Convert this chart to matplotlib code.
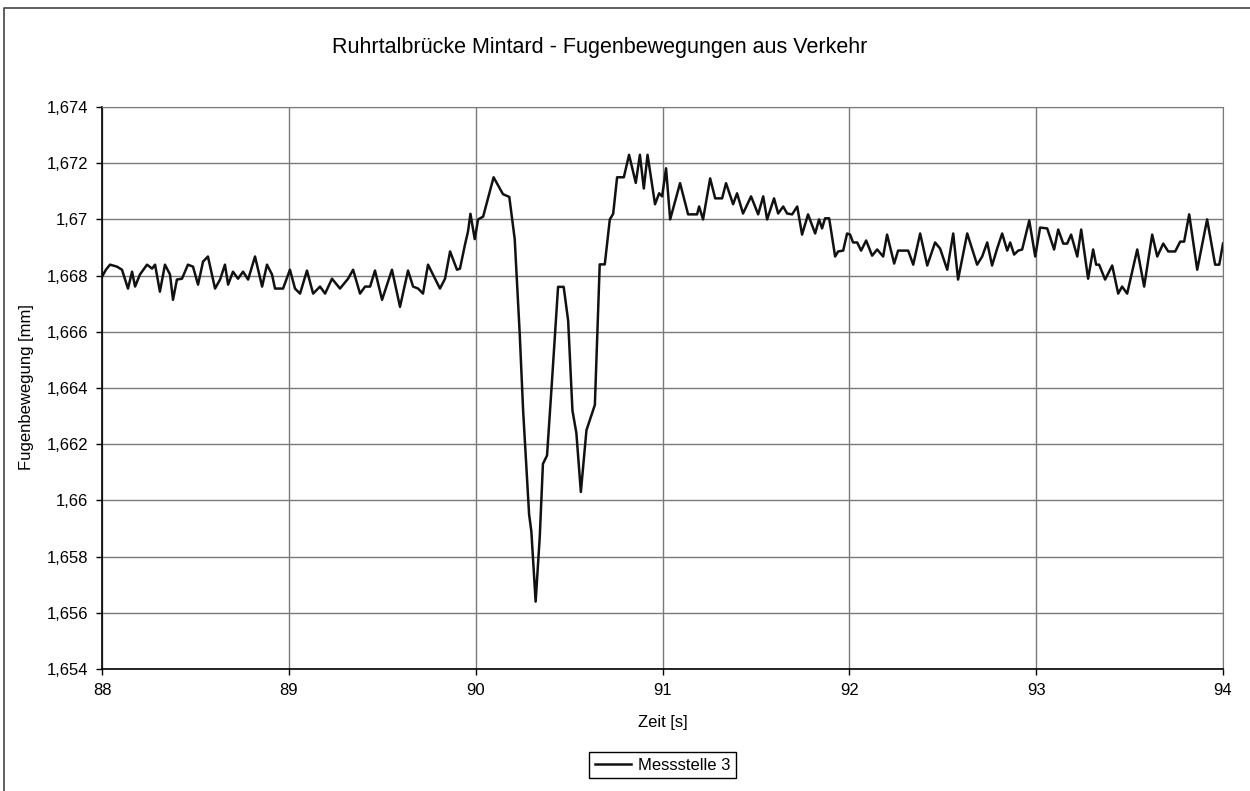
import matplotlib.pyplot as plt
from matplotlib.lines import Line2D

plt.rcParams['font.family'] = ['Liberation Sans', 'DejaVu Sans']

# Messstelle 3: Zeit [s] und Fugenbewegung [mm]
# vor der Überfahrt
zeit_vor = [88.000, 88.021, 88.043, 88.080, 88.107, 88.139, 88.161, 88.177, 88.203, 88.241,
            88.268, 88.284, 88.310, 88.337, 88.364, 88.380, 88.401, 88.428, 88.460, 88.487,
            88.514, 88.541, 88.567, 88.605, 88.632, 88.658, 88.675, 88.701, 88.728, 88.755,
            88.782, 88.819, 88.857, 88.883, 88.910, 88.926, 88.969, 89.006, 89.033, 89.060,
            89.097, 89.130, 89.167, 89.194, 89.231, 89.274, 89.317, 89.344, 89.381, 89.408,
            89.435, 89.461, 89.499, 89.526, 89.552, 89.595, 89.638, 89.665, 89.692, 89.718,
            89.745, 89.809, 89.836, 89.863, 89.900, 89.916, 89.943, 89.959]
weg_vor = [1.66796, 1.66821, 1.66839, 1.66832, 1.66821, 1.66754, 1.66814, 1.66761, 1.66804, 1.66839,
           1.66825, 1.66839, 1.66743, 1.66839, 1.66804, 1.66714, 1.66786, 1.66789, 1.66839, 1.66832,
           1.66768, 1.66850, 1.66868, 1.66754, 1.66786, 1.66839, 1.66768, 1.66814, 1.66789, 1.66814,
           1.66786, 1.66868, 1.66761, 1.66839, 1.66804, 1.66754, 1.66754, 1.66821, 1.66754, 1.66736,
           1.66818, 1.66736, 1.66761, 1.66736, 1.66789, 1.66754, 1.66789, 1.66821, 1.66736, 1.66761,
           1.66761, 1.66818, 1.66714, 1.66768, 1.66821, 1.66689, 1.66818, 1.66761, 1.66754, 1.66736,
           1.66839, 1.66754, 1.66789, 1.66886, 1.66821, 1.66825, 1.66911, 1.66957]

# Überfahrt
zeit_ueber = [89.972, 89.995, 90.013, 90.040, 90.096, 90.146, 90.180, 90.209, 90.236, 90.254,
              90.286, 90.298, 90.321, 90.343, 90.360, 90.382, 90.410, 90.441, 90.471, 90.495,
              90.518, 90.539, 90.563, 90.593, 90.638, 90.664, 90.691, 90.718, 90.736, 90.757,
              90.793, 90.821, 90.857, 90.879, 90.900, 90.920, 90.960, 90.982, 90.998, 91.019]
weg_ueber = [1.6702, 1.6693, 1.6700, 1.6701, 1.6715, 1.6709, 1.6708, 1.6693, 1.6659, 1.6632,
             1.6595, 1.6589, 1.6564, 1.6587, 1.6613, 1.6616, 1.6644, 1.6676, 1.6676, 1.6664,
             1.6632, 1.6624, 1.6603, 1.6625, 1.6634, 1.6684, 1.6684, 1.6700, 1.6702, 1.6715,
             1.6715, 1.6723, 1.6713, 1.6723, 1.6711, 1.6723, 1.67054, 1.67093, 1.67082, 1.67182]

# nach der Überfahrt
zeit_nach = [91.041, 91.094, 91.137, 91.185, 91.196, 91.217, 91.255, 91.282, 91.319, 91.340,
             91.378, 91.399, 91.431, 91.474, 91.512, 91.539, 91.560, 91.597, 91.619, 91.646,
             91.667, 91.694, 91.721, 91.747, 91.779, 91.817, 91.838, 91.854, 91.870, 91.892,
             91.924, 91.940, 91.967, 91.988, 92.004, 92.020, 92.042, 92.063, 92.090, 92.122,
             92.149, 92.181, 92.202, 92.240, 92.261, 92.315, 92.342, 92.379, 92.417, 92.459,
             92.486, 92.524, 92.556, 92.582, 92.631, 92.684, 92.711, 92.738, 92.764, 92.791,
             92.818, 92.845, 92.861, 92.882, 92.904, 92.925, 92.963, 92.995, 93.021, 93.059,
             93.096, 93.118, 93.145, 93.166, 93.187, 93.220, 93.241, 93.278, 93.305, 93.321,
             93.337, 93.369, 93.407, 93.439, 93.460, 93.487, 93.541, 93.578, 93.621, 93.648,
             93.680, 93.707, 93.744, 93.771, 93.792, 93.819, 93.862, 93.915, 93.958, 93.980,
             94.000]
weg_nach = [1.67000, 1.67129, 1.67018, 1.67018, 1.67046, 1.67000, 1.67146, 1.67075, 1.67075, 1.67129,
            1.67054, 1.67093, 1.67021, 1.67082, 1.67018, 1.67082, 1.67000, 1.67075, 1.67021, 1.67046,
            1.67021, 1.67018, 1.67046, 1.66946, 1.67018, 1.66950, 1.67000, 1.66968, 1.67004, 1.67004,
            1.66868, 1.66886, 1.66889, 1.66950, 1.66946, 1.66918, 1.66918, 1.66889, 1.66925, 1.66871,
            1.66893, 1.66868, 1.66946, 1.66843, 1.66889, 1.66889, 1.66839, 1.66950, 1.66836, 1.66918,
            1.66896, 1.66821, 1.66950, 1.66786, 1.66950, 1.66839, 1.66868, 1.66918, 1.66836, 1.66896,
            1.66950, 1.66889, 1.66918, 1.66875, 1.66889, 1.66893, 1.66996, 1.66868, 1.66971, 1.66968,
            1.66893, 1.66964, 1.66914, 1.66914, 1.66946, 1.66868, 1.66964, 1.66789, 1.66893, 1.66839,
            1.66839, 1.66786, 1.66836, 1.66736, 1.66761, 1.66736, 1.66893, 1.66761, 1.66946, 1.66868,
            1.66914, 1.66886, 1.66886, 1.66921, 1.66921, 1.67018, 1.66821, 1.67000, 1.66839, 1.66839,
            1.66914]

zeit = zeit_vor + zeit_ueber + zeit_nach
weg = weg_vor + weg_ueber + weg_nach

y_ticks = [1.654, 1.656, 1.658, 1.660, 1.662, 1.664, 1.666, 1.668, 1.670, 1.672, 1.674]
y_labels = ['1,654', '1,656', '1,658', '1,66', '1,662', '1,664', '1,666', '1,668', '1,67', '1,672', '1,674']
x_ticks = [88, 89, 90, 91, 92, 93, 94]

fig = plt.figure(figsize=(12.5, 7.91), dpi=100)
ax = fig.add_axes([0.0816, 0.1542, 0.8968, 0.7105])

ax.plot(zeit, weg, color='#111111', linewidth=1.8, label='Messstelle 3',
        solid_joinstyle='round')

ax.set_xlim(88, 94)
ax.set_ylim(1.654, 1.674)
ax.set_xticks(x_ticks)
ax.set_xticklabels([str(x) for x in x_ticks])
ax.set_yticks(y_ticks)
ax.set_yticklabels(y_labels)
ax.tick_params(direction='out', length=4, width=1, labelsize=12, pad=6)
ax.grid(True, color='#7a7a7a', linewidth=1.0)
for side in ['top', 'right']:
    ax.spines[side].set_color('#7a7a7a')
for side in ['left', 'bottom']:
    ax.spines[side].set_linewidth(1.2)

fig.text(0.48, 1 - 47 / 791, 'Ruhrtalbrücke Mintard - Fugenbewegungen aus Verkehr',
         ha='center', va='center', fontsize=15.5)
fig.text(0.53, 1 - 722 / 791, 'Zeit [s]', ha='center', va='center', fontsize=12)
fig.text(27 / 1250, 1 - 387 / 791, 'Fugenbewegung [mm]', ha='center', va='center',
         rotation=90, fontsize=12)

leg = ax.legend(loc='center', bbox_to_anchor=(0.53, 1 - 765 / 791),
                bbox_transform=fig.transFigure, fontsize=12, fancybox=False,
                edgecolor='black', framealpha=1, handlelength=2.2,
                borderpad=0.35, handletextpad=0.4)
leg.get_frame().set_linewidth(1.0)

# Rahmen des Diagrammbereichs
fig.add_artist(Line2D([4 / 1250, 4 / 1250, 1.0], [0.0, 1 - 8 / 791, 1 - 8 / 791],
                      transform=fig.transFigure, color='#444444', linewidth=1.2))

fig.savefig('out.png', dpi=100)
